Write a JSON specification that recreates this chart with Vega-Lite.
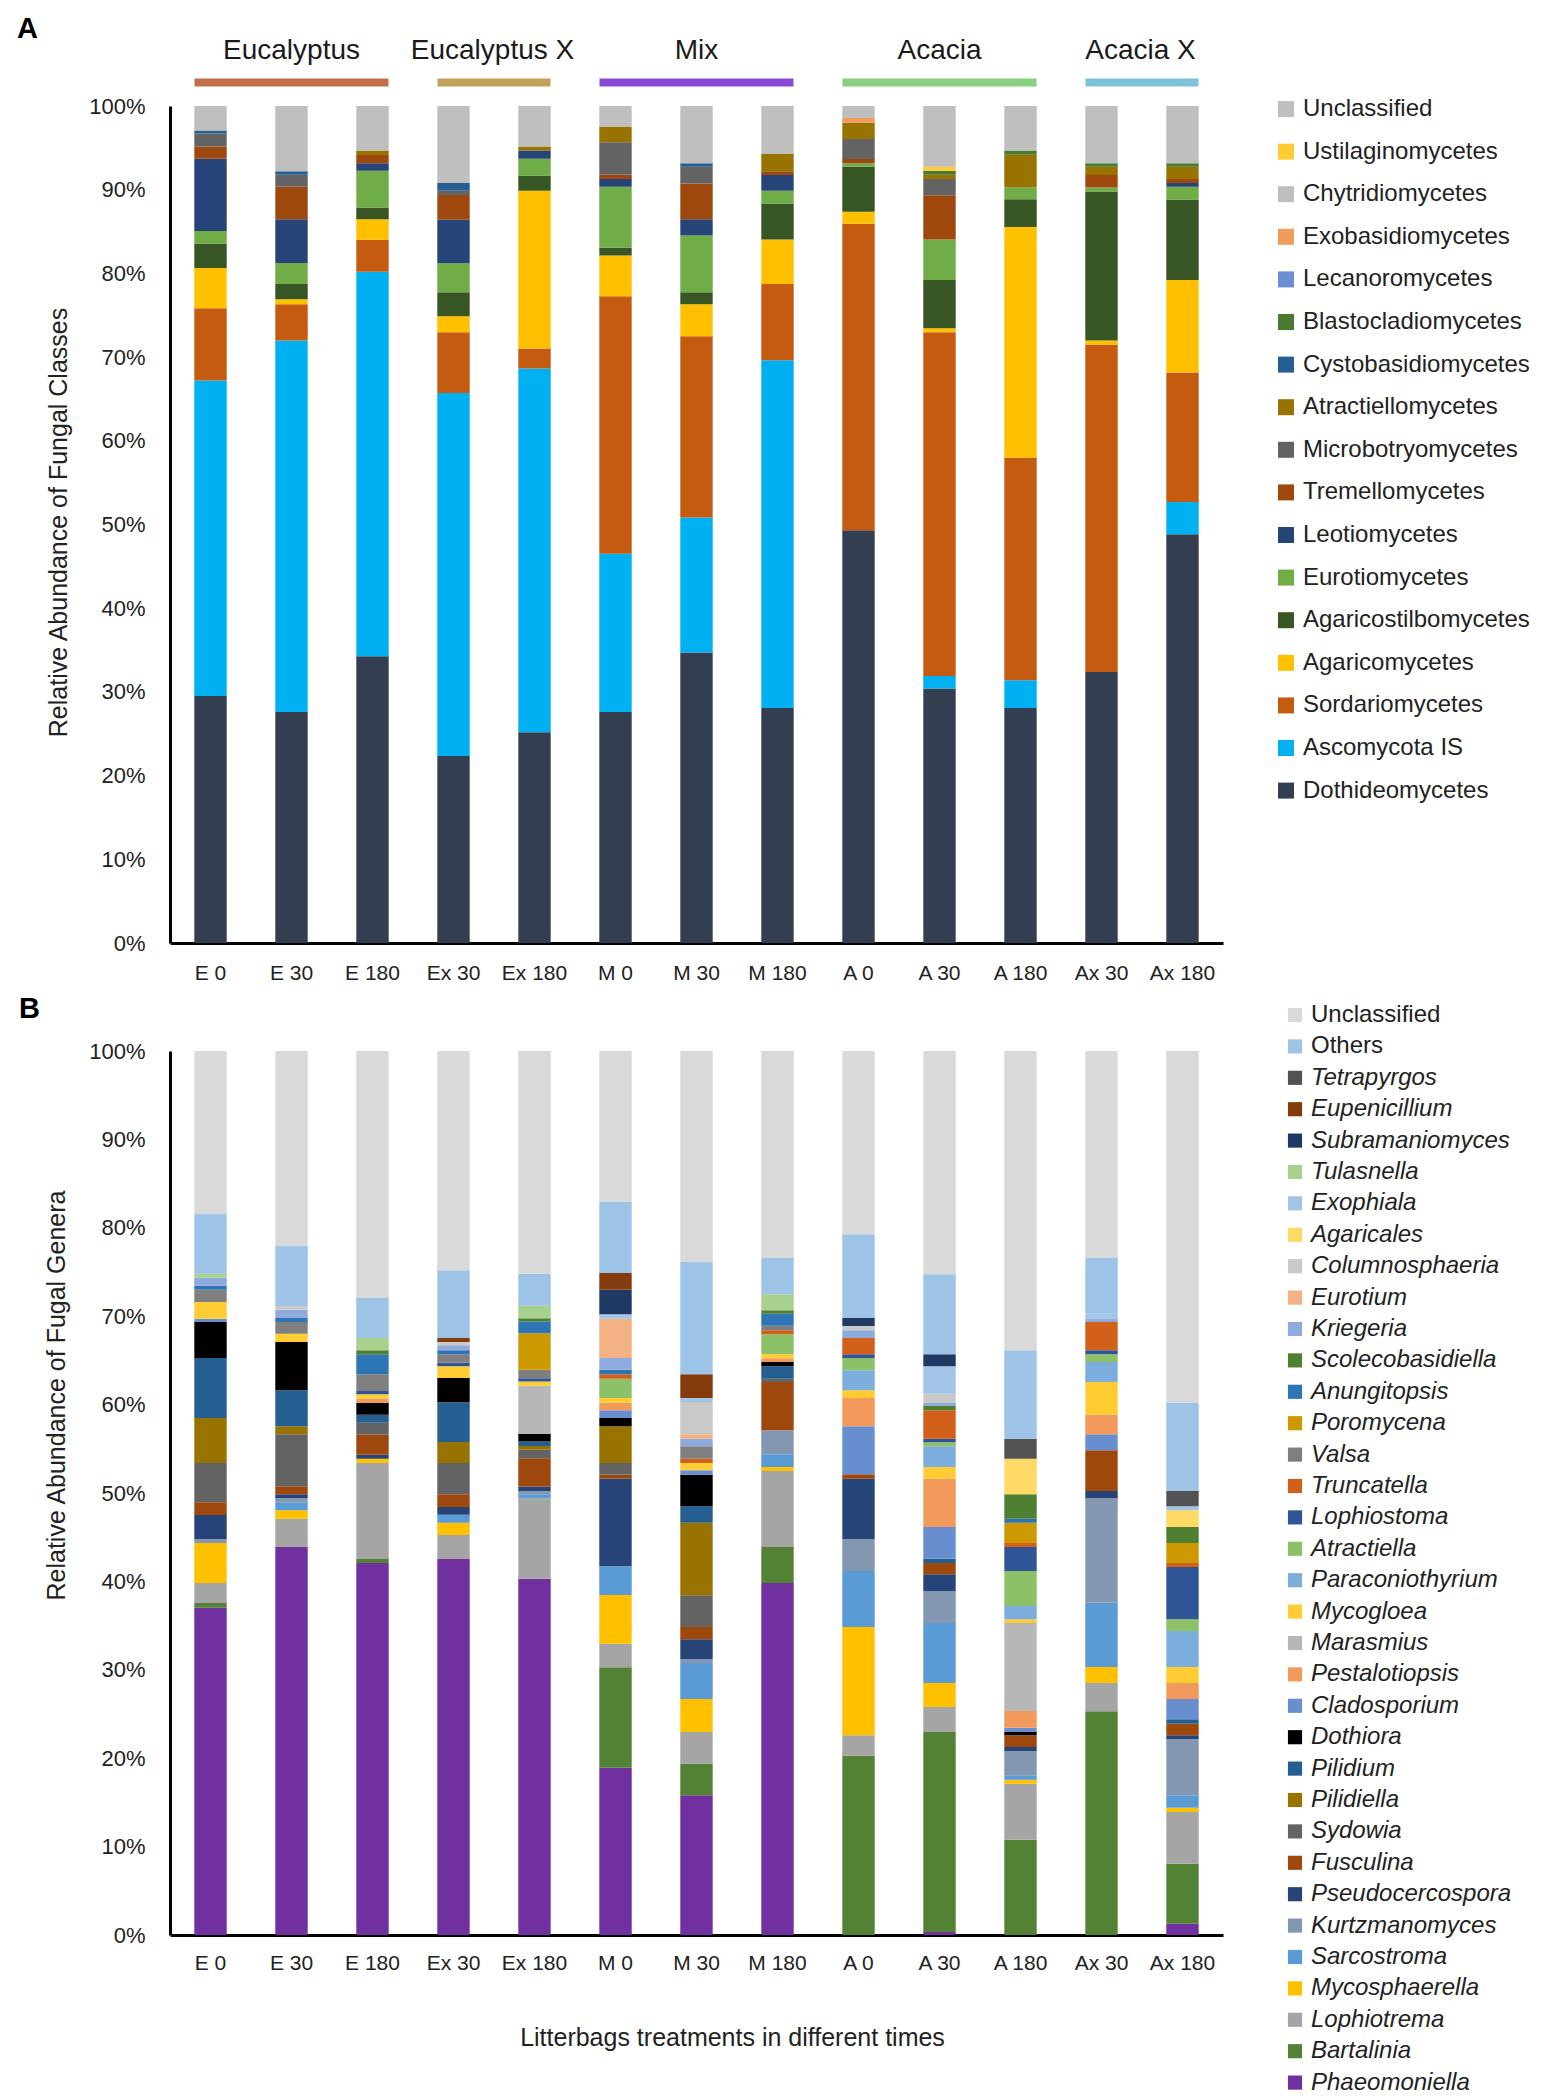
{
  "$schema": "https://vega.github.io/schema/vega-lite/v6.json",
  "background": "white",
  "padding": {"left": 17, "top": 14, "right": 0, "bottom": 0},
  "config": {"view": {"stroke": null}, "font": "Liberation Sans", "axis": {"labelColor": "#222222", "titleColor": "#222222"}},
  "bounds": "flush",
  "spacing": 108,
  "resolve": {"scale": {"color": "independent", "x": "independent", "y": "independent", "stroke": "independent"}, "legend": {"color": "independent"}},
  "datasets": {
    "groups": [
      {"group": "Eucalyptus", "first": "E 0", "mid": "E 30", "last": "E 180", "n": 3},
      {"group": "Eucalyptus X", "first": "Ex 30", "mid": "Ex 30", "last": "Ex 180", "n": 2},
      {"group": "Mix", "first": "M 0", "mid": "M 30", "last": "M 180", "n": 3},
      {"group": "Acacia", "first": "A 0", "mid": "A 30", "last": "A 180", "n": 3},
      {"group": "Acacia X", "first": "Ax 30", "mid": "Ax 30", "last": "Ax 180", "n": 2}
    ],
    "classes": [
      {"sample": "E 0", "cls": "Dothideomycetes", "value": 29.5},
      {"sample": "E 0", "cls": "Ascomycota IS", "value": 37.69},
      {"sample": "E 0", "cls": "Sordariomycetes", "value": 8.65},
      {"sample": "E 0", "cls": "Agaricomycetes", "value": 4.81},
      {"sample": "E 0", "cls": "Agaricostilbomycetes", "value": 2.92},
      {"sample": "E 0", "cls": "Eurotiomycetes", "value": 1.49},
      {"sample": "E 0", "cls": "Leotiomycetes", "value": 8.64},
      {"sample": "E 0", "cls": "Tremellomycetes", "value": 1.45},
      {"sample": "E 0", "cls": "Microbotryomycetes", "value": 1.55},
      {"sample": "E 0", "cls": "Cystobasidiomycetes", "value": 0.38},
      {"sample": "E 0", "cls": "Unclassified", "value": 2.92},
      {"sample": "E 30", "cls": "Dothideomycetes", "value": 27.6},
      {"sample": "E 30", "cls": "Ascomycota IS", "value": 44.39},
      {"sample": "E 30", "cls": "Sordariomycetes", "value": 4.33},
      {"sample": "E 30", "cls": "Agaricomycetes", "value": 0.6},
      {"sample": "E 30", "cls": "Agaricostilbomycetes", "value": 1.81},
      {"sample": "E 30", "cls": "Eurotiomycetes", "value": 2.52},
      {"sample": "E 30", "cls": "Leotiomycetes", "value": 5.21},
      {"sample": "E 30", "cls": "Tremellomycetes", "value": 3.88},
      {"sample": "E 30", "cls": "Microbotryomycetes", "value": 1.45},
      {"sample": "E 30", "cls": "Cystobasidiomycetes", "value": 0.4},
      {"sample": "E 30", "cls": "Unclassified", "value": 7.81},
      {"sample": "E 180", "cls": "Dothideomycetes", "value": 34.25},
      {"sample": "E 180", "cls": "Ascomycota IS", "value": 45.96},
      {"sample": "E 180", "cls": "Sordariomycetes", "value": 3.8},
      {"sample": "E 180", "cls": "Agaricomycetes", "value": 2.45},
      {"sample": "E 180", "cls": "Agaricostilbomycetes", "value": 1.4},
      {"sample": "E 180", "cls": "Eurotiomycetes", "value": 4.41},
      {"sample": "E 180", "cls": "Leotiomycetes", "value": 0.88},
      {"sample": "E 180", "cls": "Tremellomycetes", "value": 1.0},
      {"sample": "E 180", "cls": "Atractiellomycetes", "value": 0.52},
      {"sample": "E 180", "cls": "Unclassified", "value": 5.33},
      {"sample": "Ex 30", "cls": "Dothideomycetes", "value": 22.34},
      {"sample": "Ex 30", "cls": "Ascomycota IS", "value": 43.37},
      {"sample": "Ex 30", "cls": "Sordariomycetes", "value": 7.25},
      {"sample": "Ex 30", "cls": "Agaricomycetes", "value": 1.92},
      {"sample": "Ex 30", "cls": "Agaricostilbomycetes", "value": 2.88},
      {"sample": "Ex 30", "cls": "Eurotiomycetes", "value": 3.45},
      {"sample": "Ex 30", "cls": "Leotiomycetes", "value": 5.21},
      {"sample": "Ex 30", "cls": "Tremellomycetes", "value": 2.96},
      {"sample": "Ex 30", "cls": "Microbotryomycetes", "value": 0.48},
      {"sample": "Ex 30", "cls": "Cystobasidiomycetes", "value": 0.93},
      {"sample": "Ex 30", "cls": "Unclassified", "value": 9.21},
      {"sample": "Ex 180", "cls": "Dothideomycetes", "value": 25.17},
      {"sample": "Ex 180", "cls": "Ascomycota IS", "value": 43.46},
      {"sample": "Ex 180", "cls": "Sordariomycetes", "value": 2.4},
      {"sample": "Ex 180", "cls": "Agaricomycetes", "value": 18.83},
      {"sample": "Ex 180", "cls": "Agaricostilbomycetes", "value": 1.85},
      {"sample": "Ex 180", "cls": "Eurotiomycetes", "value": 2.0},
      {"sample": "Ex 180", "cls": "Leotiomycetes", "value": 0.96},
      {"sample": "Ex 180", "cls": "Atractiellomycetes", "value": 0.48},
      {"sample": "Ex 180", "cls": "Unclassified", "value": 4.85},
      {"sample": "M 0", "cls": "Dothideomycetes", "value": 27.6},
      {"sample": "M 0", "cls": "Ascomycota IS", "value": 18.91},
      {"sample": "M 0", "cls": "Sordariomycetes", "value": 30.77},
      {"sample": "M 0", "cls": "Agaricomycetes", "value": 4.85},
      {"sample": "M 0", "cls": "Agaricostilbomycetes", "value": 0.92},
      {"sample": "M 0", "cls": "Eurotiomycetes", "value": 7.29},
      {"sample": "M 0", "cls": "Leotiomycetes", "value": 0.93},
      {"sample": "M 0", "cls": "Tremellomycetes", "value": 0.52},
      {"sample": "M 0", "cls": "Microbotryomycetes", "value": 3.88},
      {"sample": "M 0", "cls": "Atractiellomycetes", "value": 1.89},
      {"sample": "M 0", "cls": "Unclassified", "value": 2.44},
      {"sample": "M 30", "cls": "Dothideomycetes", "value": 34.7},
      {"sample": "M 30", "cls": "Ascomycota IS", "value": 16.14},
      {"sample": "M 30", "cls": "Sordariomycetes", "value": 21.64},
      {"sample": "M 30", "cls": "Agaricomycetes", "value": 3.84},
      {"sample": "M 30", "cls": "Agaricostilbomycetes", "value": 1.44},
      {"sample": "M 30", "cls": "Eurotiomycetes", "value": 6.78},
      {"sample": "M 30", "cls": "Leotiomycetes", "value": 1.92},
      {"sample": "M 30", "cls": "Tremellomycetes", "value": 4.29},
      {"sample": "M 30", "cls": "Microbotryomycetes", "value": 2.0},
      {"sample": "M 30", "cls": "Cystobasidiomycetes", "value": 0.4},
      {"sample": "M 30", "cls": "Unclassified", "value": 6.85},
      {"sample": "M 180", "cls": "Dothideomycetes", "value": 28.08},
      {"sample": "M 180", "cls": "Ascomycota IS", "value": 41.55},
      {"sample": "M 180", "cls": "Sordariomycetes", "value": 9.1},
      {"sample": "M 180", "cls": "Agaricomycetes", "value": 5.32},
      {"sample": "M 180", "cls": "Agaricostilbomycetes", "value": 4.29},
      {"sample": "M 180", "cls": "Eurotiomycetes", "value": 1.52},
      {"sample": "M 180", "cls": "Leotiomycetes", "value": 1.89},
      {"sample": "M 180", "cls": "Tremellomycetes", "value": 0.44},
      {"sample": "M 180", "cls": "Atractiellomycetes", "value": 2.08},
      {"sample": "M 180", "cls": "Unclassified", "value": 5.73},
      {"sample": "A 0", "cls": "Dothideomycetes", "value": 49.32},
      {"sample": "A 0", "cls": "Sordariomycetes", "value": 36.62},
      {"sample": "A 0", "cls": "Agaricomycetes", "value": 1.44},
      {"sample": "A 0", "cls": "Agaricostilbomycetes", "value": 5.37},
      {"sample": "A 0", "cls": "Eurotiomycetes", "value": 0.4},
      {"sample": "A 0", "cls": "Tremellomycetes", "value": 0.52},
      {"sample": "A 0", "cls": "Microbotryomycetes", "value": 2.4},
      {"sample": "A 0", "cls": "Atractiellomycetes", "value": 1.93},
      {"sample": "A 0", "cls": "Exobasidiomycetes", "value": 0.56},
      {"sample": "A 0", "cls": "Unclassified", "value": 1.44},
      {"sample": "A 30", "cls": "Dothideomycetes", "value": 30.4},
      {"sample": "A 30", "cls": "Ascomycota IS", "value": 1.5},
      {"sample": "A 30", "cls": "Sordariomycetes", "value": 41.06},
      {"sample": "A 30", "cls": "Agaricomycetes", "value": 0.48},
      {"sample": "A 30", "cls": "Agaricostilbomycetes", "value": 5.76},
      {"sample": "A 30", "cls": "Eurotiomycetes", "value": 4.85},
      {"sample": "A 30", "cls": "Tremellomycetes", "value": 5.29},
      {"sample": "A 30", "cls": "Microbotryomycetes", "value": 1.93},
      {"sample": "A 30", "cls": "Atractiellomycetes", "value": 0.52},
      {"sample": "A 30", "cls": "Blastocladiomycetes", "value": 0.48},
      {"sample": "A 30", "cls": "Ustilaginomycetes", "value": 0.48},
      {"sample": "A 30", "cls": "Unclassified", "value": 7.25},
      {"sample": "A 180", "cls": "Dothideomycetes", "value": 28.08},
      {"sample": "A 180", "cls": "Ascomycota IS", "value": 3.32},
      {"sample": "A 180", "cls": "Sordariomycetes", "value": 26.61},
      {"sample": "A 180", "cls": "Agaricomycetes", "value": 27.53},
      {"sample": "A 180", "cls": "Agaricostilbomycetes", "value": 3.32},
      {"sample": "A 180", "cls": "Eurotiomycetes", "value": 1.4},
      {"sample": "A 180", "cls": "Atractiellomycetes", "value": 3.93},
      {"sample": "A 180", "cls": "Blastocladiomycetes", "value": 0.48},
      {"sample": "A 180", "cls": "Unclassified", "value": 5.33},
      {"sample": "Ax 30", "cls": "Dothideomycetes", "value": 32.38},
      {"sample": "Ax 30", "cls": "Sordariomycetes", "value": 39.13},
      {"sample": "Ax 30", "cls": "Agaricomycetes", "value": 0.48},
      {"sample": "Ax 30", "cls": "Agaricostilbomycetes", "value": 17.79},
      {"sample": "Ax 30", "cls": "Eurotiomycetes", "value": 0.48},
      {"sample": "Ax 30", "cls": "Tremellomycetes", "value": 1.49},
      {"sample": "Ax 30", "cls": "Atractiellomycetes", "value": 1.0},
      {"sample": "Ax 30", "cls": "Blastocladiomycetes", "value": 0.4},
      {"sample": "Ax 30", "cls": "Unclassified", "value": 6.85},
      {"sample": "Ax 180", "cls": "Dothideomycetes", "value": 48.84},
      {"sample": "Ax 180", "cls": "Ascomycota IS", "value": 3.84},
      {"sample": "Ax 180", "cls": "Sordariomycetes", "value": 15.47},
      {"sample": "Ax 180", "cls": "Agaricomycetes", "value": 11.05},
      {"sample": "Ax 180", "cls": "Agaricostilbomycetes", "value": 9.62},
      {"sample": "Ax 180", "cls": "Eurotiomycetes", "value": 1.52},
      {"sample": "Ax 180", "cls": "Leotiomycetes", "value": 0.45},
      {"sample": "Ax 180", "cls": "Tremellomycetes", "value": 0.48},
      {"sample": "Ax 180", "cls": "Atractiellomycetes", "value": 1.48},
      {"sample": "Ax 180", "cls": "Blastocladiomycetes", "value": 0.4},
      {"sample": "Ax 180", "cls": "Unclassified", "value": 6.85}
    ],
    "genera": [
      {"sample": "E 0", "genus": "Phaeomoniella", "value": 37.03},
      {"sample": "E 0", "genus": "Bartalinia", "value": 0.53},
      {"sample": "E 0", "genus": "Lophiotrema", "value": 2.26},
      {"sample": "E 0", "genus": "Mycosphaerella", "value": 4.52},
      {"sample": "E 0", "genus": "Kurtzmanomyces", "value": 0.46},
      {"sample": "E 0", "genus": "Pseudocercospora", "value": 2.71},
      {"sample": "E 0", "genus": "Fusculina", "value": 1.43},
      {"sample": "E 0", "genus": "Sydowia", "value": 4.45},
      {"sample": "E 0", "genus": "Pilidiella", "value": 5.09},
      {"sample": "E 0", "genus": "Pilidium", "value": 6.79},
      {"sample": "E 0", "genus": "Dothiora", "value": 4.07},
      {"sample": "E 0", "genus": "Cladosporium", "value": 0.38},
      {"sample": "E 0", "genus": "Mycogloea", "value": 1.88},
      {"sample": "E 0", "genus": "Valsa", "value": 1.4},
      {"sample": "E 0", "genus": "Anungitopsis", "value": 0.45},
      {"sample": "E 0", "genus": "Kriegeria", "value": 0.91},
      {"sample": "E 0", "genus": "Tulasnella", "value": 0.45},
      {"sample": "E 0", "genus": "Others", "value": 6.75},
      {"sample": "E 0", "genus": "Unclassified", "value": 18.44},
      {"sample": "E 30", "genus": "Phaeomoniella", "value": 43.89},
      {"sample": "E 30", "genus": "Lophiotrema", "value": 3.21},
      {"sample": "E 30", "genus": "Mycosphaerella", "value": 0.94},
      {"sample": "E 30", "genus": "Sarcostroma", "value": 0.9},
      {"sample": "E 30", "genus": "Kurtzmanomyces", "value": 0.46},
      {"sample": "E 30", "genus": "Pseudocercospora", "value": 0.45},
      {"sample": "E 30", "genus": "Fusculina", "value": 0.91},
      {"sample": "E 30", "genus": "Sydowia", "value": 5.88},
      {"sample": "E 30", "genus": "Pilidiella", "value": 0.9},
      {"sample": "E 30", "genus": "Pilidium", "value": 4.07},
      {"sample": "E 30", "genus": "Dothiora", "value": 5.47},
      {"sample": "E 30", "genus": "Mycogloea", "value": 0.94},
      {"sample": "E 30", "genus": "Valsa", "value": 1.32},
      {"sample": "E 30", "genus": "Anungitopsis", "value": 0.46},
      {"sample": "E 30", "genus": "Kriegeria", "value": 0.94},
      {"sample": "E 30", "genus": "Columnosphaeria", "value": 0.41},
      {"sample": "E 30", "genus": "Others", "value": 6.79},
      {"sample": "E 30", "genus": "Unclassified", "value": 22.06},
      {"sample": "E 180", "genus": "Phaeomoniella", "value": 42.08},
      {"sample": "E 180", "genus": "Bartalinia", "value": 0.45},
      {"sample": "E 180", "genus": "Lophiotrema", "value": 10.86},
      {"sample": "E 180", "genus": "Mycosphaerella", "value": 0.49},
      {"sample": "E 180", "genus": "Pseudocercospora", "value": 0.45},
      {"sample": "E 180", "genus": "Fusculina", "value": 2.27},
      {"sample": "E 180", "genus": "Sydowia", "value": 1.36},
      {"sample": "E 180", "genus": "Pilidium", "value": 0.9},
      {"sample": "E 180", "genus": "Dothiora", "value": 1.32},
      {"sample": "E 180", "genus": "Pestalotiopsis", "value": 0.49},
      {"sample": "E 180", "genus": "Mycogloea", "value": 0.49},
      {"sample": "E 180", "genus": "Lophiostoma", "value": 0.38},
      {"sample": "E 180", "genus": "Valsa", "value": 1.89},
      {"sample": "E 180", "genus": "Anungitopsis", "value": 2.26},
      {"sample": "E 180", "genus": "Scolecobasidiella", "value": 0.45},
      {"sample": "E 180", "genus": "Tulasnella", "value": 1.39},
      {"sample": "E 180", "genus": "Others", "value": 4.53},
      {"sample": "E 180", "genus": "Unclassified", "value": 27.94},
      {"sample": "Ex 30", "genus": "Phaeomoniella", "value": 42.53},
      {"sample": "Ex 30", "genus": "Lophiotrema", "value": 2.72},
      {"sample": "Ex 30", "genus": "Mycosphaerella", "value": 1.39},
      {"sample": "Ex 30", "genus": "Sarcostroma", "value": 0.91},
      {"sample": "Ex 30", "genus": "Pseudocercospora", "value": 0.87},
      {"sample": "Ex 30", "genus": "Fusculina", "value": 1.43},
      {"sample": "Ex 30", "genus": "Sydowia", "value": 3.54},
      {"sample": "Ex 30", "genus": "Pilidiella", "value": 2.38},
      {"sample": "Ex 30", "genus": "Pilidium", "value": 4.49},
      {"sample": "Ex 30", "genus": "Dothiora", "value": 2.75},
      {"sample": "Ex 30", "genus": "Mycogloea", "value": 1.32},
      {"sample": "Ex 30", "genus": "Lophiostoma", "value": 0.41},
      {"sample": "Ex 30", "genus": "Valsa", "value": 0.95},
      {"sample": "Ex 30", "genus": "Anungitopsis", "value": 0.45},
      {"sample": "Ex 30", "genus": "Kriegeria", "value": 0.56},
      {"sample": "Ex 30", "genus": "Columnosphaeria", "value": 0.38},
      {"sample": "Ex 30", "genus": "Eupenicillium", "value": 0.45},
      {"sample": "Ex 30", "genus": "Others", "value": 7.66},
      {"sample": "Ex 30", "genus": "Unclassified", "value": 24.81},
      {"sample": "Ex 180", "genus": "Phaeomoniella", "value": 40.31},
      {"sample": "Ex 180", "genus": "Lophiotrema", "value": 9.09},
      {"sample": "Ex 180", "genus": "Sarcostroma", "value": 0.45},
      {"sample": "Ex 180", "genus": "Kurtzmanomyces", "value": 0.38},
      {"sample": "Ex 180", "genus": "Pseudocercospora", "value": 0.5},
      {"sample": "Ex 180", "genus": "Fusculina", "value": 3.2},
      {"sample": "Ex 180", "genus": "Sydowia", "value": 0.95},
      {"sample": "Ex 180", "genus": "Pilidiella", "value": 0.45},
      {"sample": "Ex 180", "genus": "Pilidium", "value": 0.49},
      {"sample": "Ex 180", "genus": "Dothiora", "value": 0.87},
      {"sample": "Ex 180", "genus": "Marasmius", "value": 5.43},
      {"sample": "Ex 180", "genus": "Mycogloea", "value": 0.49},
      {"sample": "Ex 180", "genus": "Lophiostoma", "value": 0.37},
      {"sample": "Ex 180", "genus": "Valsa", "value": 0.95},
      {"sample": "Ex 180", "genus": "Poromycena", "value": 4.14},
      {"sample": "Ex 180", "genus": "Anungitopsis", "value": 1.32},
      {"sample": "Ex 180", "genus": "Scolecobasidiella", "value": 0.38},
      {"sample": "Ex 180", "genus": "Tulasnella", "value": 1.4},
      {"sample": "Ex 180", "genus": "Others", "value": 3.62},
      {"sample": "Ex 180", "genus": "Unclassified", "value": 25.21},
      {"sample": "M 0", "genus": "Phaeomoniella", "value": 18.92},
      {"sample": "M 0", "genus": "Bartalinia", "value": 11.36},
      {"sample": "M 0", "genus": "Lophiotrema", "value": 2.68},
      {"sample": "M 0", "genus": "Mycosphaerella", "value": 5.5},
      {"sample": "M 0", "genus": "Sarcostroma", "value": 3.24},
      {"sample": "M 0", "genus": "Pseudocercospora", "value": 9.92},
      {"sample": "M 0", "genus": "Fusculina", "value": 0.45},
      {"sample": "M 0", "genus": "Sydowia", "value": 1.32},
      {"sample": "M 0", "genus": "Pilidiella", "value": 4.15},
      {"sample": "M 0", "genus": "Dothiora", "value": 0.94},
      {"sample": "M 0", "genus": "Cladosporium", "value": 0.87},
      {"sample": "M 0", "genus": "Pestalotiopsis", "value": 0.87},
      {"sample": "M 0", "genus": "Mycogloea", "value": 0.53},
      {"sample": "M 0", "genus": "Atractiella", "value": 2.18},
      {"sample": "M 0", "genus": "Truncatella", "value": 0.5},
      {"sample": "M 0", "genus": "Anungitopsis", "value": 0.52},
      {"sample": "M 0", "genus": "Kriegeria", "value": 1.32},
      {"sample": "M 0", "genus": "Eurotium", "value": 4.45},
      {"sample": "M 0", "genus": "Exophiala", "value": 0.49},
      {"sample": "M 0", "genus": "Subramaniomyces", "value": 2.79},
      {"sample": "M 0", "genus": "Eupenicillium", "value": 1.89},
      {"sample": "M 0", "genus": "Others", "value": 8.03},
      {"sample": "M 0", "genus": "Unclassified", "value": 17.08},
      {"sample": "M 30", "genus": "Phaeomoniella", "value": 15.8},
      {"sample": "M 30", "genus": "Bartalinia", "value": 3.58},
      {"sample": "M 30", "genus": "Lophiotrema", "value": 3.58},
      {"sample": "M 30", "genus": "Mycosphaerella", "value": 3.74},
      {"sample": "M 30", "genus": "Sarcostroma", "value": 4.07},
      {"sample": "M 30", "genus": "Kurtzmanomyces", "value": 0.41},
      {"sample": "M 30", "genus": "Pseudocercospora", "value": 2.27},
      {"sample": "M 30", "genus": "Fusculina", "value": 1.39},
      {"sample": "M 30", "genus": "Sydowia", "value": 3.58},
      {"sample": "M 30", "genus": "Pilidiella", "value": 8.22},
      {"sample": "M 30", "genus": "Pilidium", "value": 1.85},
      {"sample": "M 30", "genus": "Dothiora", "value": 3.58},
      {"sample": "M 30", "genus": "Cladosporium", "value": 0.49},
      {"sample": "M 30", "genus": "Mycogloea", "value": 0.83},
      {"sample": "M 30", "genus": "Truncatella", "value": 0.49},
      {"sample": "M 30", "genus": "Valsa", "value": 1.4},
      {"sample": "M 30", "genus": "Kriegeria", "value": 0.86},
      {"sample": "M 30", "genus": "Eurotium", "value": 0.5},
      {"sample": "M 30", "genus": "Columnosphaeria", "value": 3.65},
      {"sample": "M 30", "genus": "Exophiala", "value": 0.46},
      {"sample": "M 30", "genus": "Eupenicillium", "value": 2.68},
      {"sample": "M 30", "genus": "Others", "value": 12.7},
      {"sample": "M 30", "genus": "Unclassified", "value": 23.87},
      {"sample": "M 180", "genus": "Phaeomoniella", "value": 39.82},
      {"sample": "M 180", "genus": "Bartalinia", "value": 4.07},
      {"sample": "M 180", "genus": "Lophiotrema", "value": 8.6},
      {"sample": "M 180", "genus": "Mycosphaerella", "value": 0.45},
      {"sample": "M 180", "genus": "Sarcostroma", "value": 1.43},
      {"sample": "M 180", "genus": "Kurtzmanomyces", "value": 2.72},
      {"sample": "M 180", "genus": "Fusculina", "value": 5.47},
      {"sample": "M 180", "genus": "Sydowia", "value": 0.37},
      {"sample": "M 180", "genus": "Pilidium", "value": 1.4},
      {"sample": "M 180", "genus": "Dothiora", "value": 0.49},
      {"sample": "M 180", "genus": "Pestalotiopsis", "value": 0.41},
      {"sample": "M 180", "genus": "Mycogloea", "value": 0.46},
      {"sample": "M 180", "genus": "Atractiella", "value": 2.26},
      {"sample": "M 180", "genus": "Truncatella", "value": 0.45},
      {"sample": "M 180", "genus": "Valsa", "value": 0.53},
      {"sample": "M 180", "genus": "Anungitopsis", "value": 1.35},
      {"sample": "M 180", "genus": "Scolecobasidiella", "value": 0.38},
      {"sample": "M 180", "genus": "Tulasnella", "value": 1.82},
      {"sample": "M 180", "genus": "Others", "value": 4.1},
      {"sample": "M 180", "genus": "Unclassified", "value": 23.42},
      {"sample": "A 0", "genus": "Bartalinia", "value": 20.28},
      {"sample": "A 0", "genus": "Lophiotrema", "value": 2.31},
      {"sample": "A 0", "genus": "Mycosphaerella", "value": 12.25},
      {"sample": "A 0", "genus": "Sarcostroma", "value": 6.34},
      {"sample": "A 0", "genus": "Kurtzmanomyces", "value": 3.62},
      {"sample": "A 0", "genus": "Pseudocercospora", "value": 6.82},
      {"sample": "A 0", "genus": "Fusculina", "value": 0.49},
      {"sample": "A 0", "genus": "Cladosporium", "value": 5.43},
      {"sample": "A 0", "genus": "Pestalotiopsis", "value": 3.21},
      {"sample": "A 0", "genus": "Mycogloea", "value": 0.86},
      {"sample": "A 0", "genus": "Paraconiothyrium", "value": 2.27},
      {"sample": "A 0", "genus": "Atractiella", "value": 1.39},
      {"sample": "A 0", "genus": "Lophiostoma", "value": 0.42},
      {"sample": "A 0", "genus": "Truncatella", "value": 1.84},
      {"sample": "A 0", "genus": "Kriegeria", "value": 0.87},
      {"sample": "A 0", "genus": "Columnosphaeria", "value": 0.49},
      {"sample": "A 0", "genus": "Subramaniomyces", "value": 0.91},
      {"sample": "A 0", "genus": "Others", "value": 9.46},
      {"sample": "A 0", "genus": "Unclassified", "value": 20.74},
      {"sample": "A 30", "genus": "Phaeomoniella", "value": 0.34},
      {"sample": "A 30", "genus": "Bartalinia", "value": 22.62},
      {"sample": "A 30", "genus": "Lophiotrema", "value": 2.83},
      {"sample": "A 30", "genus": "Mycosphaerella", "value": 2.72},
      {"sample": "A 30", "genus": "Sarcostroma", "value": 6.78},
      {"sample": "A 30", "genus": "Kurtzmanomyces", "value": 3.62},
      {"sample": "A 30", "genus": "Pseudocercospora", "value": 1.89},
      {"sample": "A 30", "genus": "Fusculina", "value": 1.28},
      {"sample": "A 30", "genus": "Pilidium", "value": 0.49},
      {"sample": "A 30", "genus": "Cladosporium", "value": 3.58},
      {"sample": "A 30", "genus": "Pestalotiopsis", "value": 5.47},
      {"sample": "A 30", "genus": "Mycogloea", "value": 1.32},
      {"sample": "A 30", "genus": "Paraconiothyrium", "value": 2.34},
      {"sample": "A 30", "genus": "Atractiella", "value": 0.45},
      {"sample": "A 30", "genus": "Lophiostoma", "value": 0.41},
      {"sample": "A 30", "genus": "Truncatella", "value": 3.21},
      {"sample": "A 30", "genus": "Scolecobasidiella", "value": 0.49},
      {"sample": "A 30", "genus": "Kriegeria", "value": 0.34},
      {"sample": "A 30", "genus": "Columnosphaeria", "value": 1.05},
      {"sample": "A 30", "genus": "Exophiala", "value": 3.1},
      {"sample": "A 30", "genus": "Subramaniomyces", "value": 1.36},
      {"sample": "A 30", "genus": "Others", "value": 9.05},
      {"sample": "A 30", "genus": "Unclassified", "value": 25.26},
      {"sample": "A 180", "genus": "Bartalinia", "value": 10.78},
      {"sample": "A 180", "genus": "Lophiotrema", "value": 6.34},
      {"sample": "A 180", "genus": "Mycosphaerella", "value": 0.45},
      {"sample": "A 180", "genus": "Sarcostroma", "value": 0.5},
      {"sample": "A 180", "genus": "Kurtzmanomyces", "value": 2.74},
      {"sample": "A 180", "genus": "Pseudocercospora", "value": 0.46},
      {"sample": "A 180", "genus": "Fusculina", "value": 1.32},
      {"sample": "A 180", "genus": "Dothiora", "value": 0.37},
      {"sample": "A 180", "genus": "Cladosporium", "value": 0.49},
      {"sample": "A 180", "genus": "Pestalotiopsis", "value": 1.89},
      {"sample": "A 180", "genus": "Marasmius", "value": 9.95},
      {"sample": "A 180", "genus": "Mycogloea", "value": 0.42},
      {"sample": "A 180", "genus": "Paraconiothyrium", "value": 1.51},
      {"sample": "A 180", "genus": "Atractiella", "value": 3.96},
      {"sample": "A 180", "genus": "Lophiostoma", "value": 2.71},
      {"sample": "A 180", "genus": "Truncatella", "value": 0.45},
      {"sample": "A 180", "genus": "Poromycena", "value": 2.3},
      {"sample": "A 180", "genus": "Anungitopsis", "value": 0.46},
      {"sample": "A 180", "genus": "Scolecobasidiella", "value": 2.75},
      {"sample": "A 180", "genus": "Agaricales", "value": 4.03},
      {"sample": "A 180", "genus": "Tetrapyrgos", "value": 2.26},
      {"sample": "A 180", "genus": "Others", "value": 10.0},
      {"sample": "A 180", "genus": "Unclassified", "value": 33.86},
      {"sample": "Ax 30", "genus": "Bartalinia", "value": 25.3},
      {"sample": "Ax 30", "genus": "Lophiotrema", "value": 3.21},
      {"sample": "Ax 30", "genus": "Mycosphaerella", "value": 1.81},
      {"sample": "Ax 30", "genus": "Sarcostroma", "value": 7.27},
      {"sample": "Ax 30", "genus": "Kurtzmanomyces", "value": 11.81},
      {"sample": "Ax 30", "genus": "Pseudocercospora", "value": 0.83},
      {"sample": "Ax 30", "genus": "Fusculina", "value": 4.6},
      {"sample": "Ax 30", "genus": "Cladosporium", "value": 1.81},
      {"sample": "Ax 30", "genus": "Pestalotiopsis", "value": 2.22},
      {"sample": "Ax 30", "genus": "Mycogloea", "value": 3.7},
      {"sample": "Ax 30", "genus": "Paraconiothyrium", "value": 2.26},
      {"sample": "Ax 30", "genus": "Atractiella", "value": 0.87},
      {"sample": "Ax 30", "genus": "Lophiostoma", "value": 0.45},
      {"sample": "Ax 30", "genus": "Truncatella", "value": 3.2},
      {"sample": "Ax 30", "genus": "Kriegeria", "value": 0.38},
      {"sample": "Ax 30", "genus": "Exophiala", "value": 0.56},
      {"sample": "Ax 30", "genus": "Others", "value": 6.3},
      {"sample": "Ax 30", "genus": "Unclassified", "value": 23.42},
      {"sample": "Ax 180", "genus": "Phaeomoniella", "value": 1.28},
      {"sample": "Ax 180", "genus": "Bartalinia", "value": 6.79},
      {"sample": "Ax 180", "genus": "Lophiotrema", "value": 5.84},
      {"sample": "Ax 180", "genus": "Mycosphaerella", "value": 0.49},
      {"sample": "Ax 180", "genus": "Sarcostroma", "value": 1.4},
      {"sample": "Ax 180", "genus": "Kurtzmanomyces", "value": 6.34},
      {"sample": "Ax 180", "genus": "Pseudocercospora", "value": 0.45},
      {"sample": "Ax 180", "genus": "Fusculina", "value": 1.32},
      {"sample": "Ax 180", "genus": "Pilidium", "value": 0.49},
      {"sample": "Ax 180", "genus": "Cladosporium", "value": 2.3},
      {"sample": "Ax 180", "genus": "Pestalotiopsis", "value": 1.81},
      {"sample": "Ax 180", "genus": "Mycogloea", "value": 1.81},
      {"sample": "Ax 180", "genus": "Paraconiothyrium", "value": 4.07},
      {"sample": "Ax 180", "genus": "Atractiella", "value": 1.32},
      {"sample": "Ax 180", "genus": "Lophiostoma", "value": 5.92},
      {"sample": "Ax 180", "genus": "Truncatella", "value": 0.45},
      {"sample": "Ax 180", "genus": "Poromycena", "value": 2.26},
      {"sample": "Ax 180", "genus": "Scolecobasidiella", "value": 1.81},
      {"sample": "Ax 180", "genus": "Agaricales", "value": 1.89},
      {"sample": "Ax 180", "genus": "Exophiala", "value": 0.45},
      {"sample": "Ax 180", "genus": "Tetrapyrgos", "value": 1.74},
      {"sample": "Ax 180", "genus": "Others", "value": 9.95},
      {"sample": "Ax 180", "genus": "Unclassified", "value": 39.82}
    ]
  },
  "vconcat": [
    {
      "width": 1053,
      "height": 837,
      "title": {"text": "A", "anchor": "start", "frame": "group", "fontSize": 29, "fontWeight": "bold", "font": "Liberation Sans", "color": "#000000", "offset": 0, "dx": -153, "dy": 7},
      "layer": [
        {
          "data": {"name": "classes"},
          "transform": [{"calculate": "indexof(['Unclassified','Ustilaginomycetes','Chytridiomycetes','Exobasidiomycetes','Lecanoromycetes','Blastocladiomycetes','Cystobasidiomycetes','Atractiellomycetes','Microbotryomycetes','Tremellomycetes','Leotiomycetes','Eurotiomycetes','Agaricostilbomycetes','Agaricomycetes','Sordariomycetes','Ascomycota IS','Dothideomycetes'], datum.cls)", "as": "rank"}],
          "mark": {"type": "bar"},
          "encoding": {
            "x": {"field": "sample", "type": "nominal", "sort": null, "scale": {"domain": ["E 0","E 30","E 180","Ex 30","Ex 180","M 0","M 30","M 180","A 0","A 30","A 180","Ax 30","Ax 180"], "paddingInner": 0.6, "paddingOuter": 0.3},
              "axis": {"title": null, "ticks": false, "labelAngle": 0, "labelFontSize": 21, "labelPadding": 19, "domainColor": "#000000", "domainWidth": 3}},
            "y": {"field": "value", "type": "quantitative", "stack": "zero", "scale": {"domain": [0, 100], "nice": false},
              "axis": {"title": "Relative Abundance of Fungal Classes", "values": [0,10,20,30,40,50,60,70,80,90,100], "labelExpr": "datum.value + '%'", "ticks": false, "grid": false, "domainColor": "#000000", "domainWidth": 3, "labelFontSize": 22, "labelPadding": 25, "titleFontSize": 25, "titleFontWeight": "normal", "titleX": -99, "titleY": 416}},
            "color": {"field": "cls", "type": "nominal",
              "scale": {"domain": ["Unclassified","Ustilaginomycetes","Chytridiomycetes","Exobasidiomycetes","Lecanoromycetes","Blastocladiomycetes","Cystobasidiomycetes","Atractiellomycetes","Microbotryomycetes","Tremellomycetes","Leotiomycetes","Eurotiomycetes","Agaricostilbomycetes","Agaricomycetes","Sordariomycetes","Ascomycota IS","Dothideomycetes"],
                "range": ["#bfbfbf","#ffcc33","#bfbfbf","#f19c5c","#6a8fd3","#4a7a30","#255e91","#997300","#636363","#9e480e","#264478","#70ad47","#375623","#ffc000","#c55a11","#00b0f0","#333f50"]},
              "legend": {"title": null, "orient": "none", "legendX": 1104, "legendY": -9, "symbolType": "square", "symbolSize": 256, "symbolStrokeWidth": 0, "labelFontSize": 24, "labelColor": "#222222", "labelOffset": 5, "rowPadding": 18.6, "labelLimit": 400, "symbolLimit": 40}},
            "order": {"field": "rank", "sort": "descending"}
          }
        },
        {
          "data": {"name": "groups"},
          "mark": {"type": "rule", "strokeWidth": 8, "xOffset": -16, "x2Offset": 16},
          "encoding": {
            "x": {"field": "first", "type": "nominal", "sort": null},
            "x2": {"field": "last"},
            "y": {"datum": 102.8},
            "stroke": {"field": "group", "type": "nominal", "scale": {"domain": ["Eucalyptus","Eucalyptus X","Mix","Acacia","Acacia X"], "range": ["#c3704a","#c2a25a","#8a4ad8","#86d07e","#7ec2d9"]}, "legend": null}
          }
        },
        {
          "data": {"name": "groups"},
          "transform": [{"filter": "datum.n == 3"}],
          "mark": {"type": "text", "fontSize": 28, "color": "#1a1a1a", "baseline": "middle"},
          "encoding": {
            "x": {"field": "mid", "type": "nominal", "sort": null},
            "y": {"datum": 106.6},
            "text": {"field": "group"}
          }
        },
        {
          "data": {"name": "groups"},
          "transform": [{"filter": "datum.n == 2"}],
          "mark": {"type": "text", "fontSize": 28, "color": "#1a1a1a", "baseline": "middle", "xOffset": 39},
          "encoding": {
            "x": {"field": "first", "type": "nominal", "sort": null},
            "y": {"datum": 106.6},
            "text": {"field": "group"}
          }
        }
      ]
    },
    {
      "width": 1053,
      "height": 884,
      "title": {"text": "B", "anchor": "start", "frame": "group", "fontSize": 29, "fontWeight": "bold", "font": "Liberation Sans", "color": "#000000", "offset": 0, "dx": -151, "dy": 21},
      "data": {"name": "genera"},
      "transform": [{"calculate": "indexof(['Unclassified','Others','Tetrapyrgos','Eupenicillium','Subramaniomyces','Tulasnella','Exophiala','Agaricales','Columnosphaeria','Eurotium','Kriegeria','Scolecobasidiella','Anungitopsis','Poromycena','Valsa','Truncatella','Lophiostoma','Atractiella','Paraconiothyrium','Mycogloea','Marasmius','Pestalotiopsis','Cladosporium','Dothiora','Pilidium','Pilidiella','Sydowia','Fusculina','Pseudocercospora','Kurtzmanomyces','Sarcostroma','Mycosphaerella','Lophiotrema','Bartalinia','Phaeomoniella'], datum.genus)", "as": "rank"}],
      "mark": {"type": "bar"},
      "encoding": {
        "x": {"field": "sample", "type": "nominal", "sort": null, "scale": {"domain": ["E 0","E 30","E 180","Ex 30","Ex 180","M 0","M 30","M 180","A 0","A 30","A 180","Ax 30","Ax 180"], "paddingInner": 0.6, "paddingOuter": 0.3},
          "axis": {"title": "Litterbags treatments in different times", "ticks": false, "labelAngle": 0, "labelFontSize": 21, "labelPadding": 17, "domainColor": "#000000", "domainWidth": 3, "titleFontSize": 25, "titleFontWeight": "normal", "titleX": 562, "titleY": 102, "titleBaseline": "middle"}},
        "y": {"field": "value", "type": "quantitative", "stack": "zero", "scale": {"domain": [0, 100], "nice": false},
          "axis": {"title": "Relative Abundance of Fugal Genera", "values": [0,10,20,30,40,50,60,70,80,90,100], "labelExpr": "datum.value + '%'", "ticks": false, "grid": false, "domainColor": "#000000", "domainWidth": 3, "labelFontSize": 22, "labelPadding": 25, "titleFontSize": 25, "titleFontWeight": "normal", "titleX": -101, "titleY": 344}},
        "color": {"field": "genus", "type": "nominal",
          "scale": {"domain": ["Unclassified","Others","Tetrapyrgos","Eupenicillium","Subramaniomyces","Tulasnella","Exophiala","Agaricales","Columnosphaeria","Eurotium","Kriegeria","Scolecobasidiella","Anungitopsis","Poromycena","Valsa","Truncatella","Lophiostoma","Atractiella","Paraconiothyrium","Mycogloea","Marasmius","Pestalotiopsis","Cladosporium","Dothiora","Pilidium","Pilidiella","Sydowia","Fusculina","Pseudocercospora","Kurtzmanomyces","Sarcostroma","Mycosphaerella","Lophiotrema","Bartalinia","Phaeomoniella"],
            "range": ["#d9d9d9","#9dc3e6","#525252","#843c0c","#203864","#a9d18e","#a2c4e6","#ffd966","#c9c9c9","#f4b183","#8faadc","#4f7f31","#2e75b6","#cc9900","#7f7f7f","#d2601a","#2f5597","#8cc168","#7caedd","#ffcd33","#b7b7b7","#f19a5b","#698ed0","#000000","#255e91","#997300","#636363","#9e480e","#264478","#8497b0","#5b9bd5","#ffc000","#a5a5a5","#548235","#7030a0"]},
          "legend": {"title": null, "orient": "none", "legendX": 1113, "legendY": -48, "symbolType": "square", "symbolSize": 200, "symbolStrokeWidth": 0, "labelFontSize": 24, "labelColor": "#222222", "labelOffset": 4, "rowPadding": 7.4, "labelLimit": 400, "symbolLimit": 40,
            "encode": {"labels": {"update": {"fontStyle": {"signal": "indexof(['Unclassified','Others'], datum.label) >= 0 ? 'normal' : 'italic'"}}}}}},
        "order": {"field": "rank", "sort": "descending"}
      }
    }
  ]
}
